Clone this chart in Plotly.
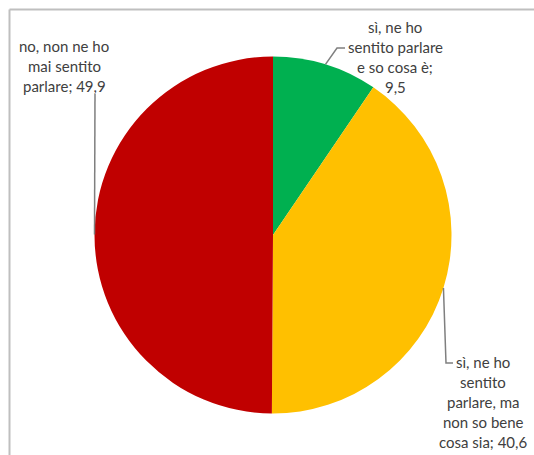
import math
import plotly.graph_objects as go

# Survey answers and their shares (%)
labels = [
    "sì, ne ho sentito parlare e so cosa è",
    "sì, ne ho sentito parlare, ma non so bene cosa sia",
    "no, non ne ho mai sentito parlare",
]
values = [9.5, 40.6, 49.9]
label_lines = [
    ["sì, ne ho", "sentito parlare", "e so cosa è;", "9,5"],
    ["sì, ne ho", "sentito", "parlare, ma", "non so bene", "cosa sia; 40,6"],
    ["no, non ne ho", "mai sentito", "parlare; 49,9"],
]
colors = ["#00B050", "#FFC000", "#C00000"]

W, H = 534, 455
CX, CY, R = 273, 235, 178.5  # pie centre and radius in pixels
LINE_STEP = 20               # text line spacing in pixels


def px(x, y):
    """Pixel position -> paper coordinates."""
    return x / W, 1 - y / H


fig = go.Figure(
    go.Pie(
        labels=labels,
        values=values,
        sort=False,
        direction="clockwise",
        rotation=0,
        marker=dict(colors=colors, line=dict(width=0)),
        textinfo="none",
        hoverinfo="label+value",
        showlegend=False,
        domain=dict(
            x=[(CX - R) / W, (CX + R) / W],
            y=[1 - (CY + R) / H, 1 - (CY - R) / H],
        ),
    )
)

# label block: centre x and first-line y (pixels); leader elbow/end points
label_pos = [(395, 27), (483, 362), (64, 46)]
leader_ends = [
    [(337, 48), (345, 48)],
    [(446, 363), (453, 363)],
    [(95, 94)],
]

total = sum(values)
cum = 0.0
shapes = []
annotations = []
for i, v in enumerate(values):
    mid = (cum + v / 2) / total * 2 * math.pi
    cum += v
    ex = CX + R * math.sin(mid)
    ey = CY - R * math.cos(mid)
    pts = [(ex, ey)] + leader_ends[i]
    path = "M " + " L ".join(
        f"{px(x, y)[0]:.5f},{px(x, y)[1]:.5f}" for x, y in pts
    )
    shapes.append(
        dict(type="path", xref="paper", yref="paper", path=path,
             line=dict(color="#7F7F7F", width=1.5))
    )
    cx, y0 = label_pos[i]
    for k, line in enumerate(label_lines[i]):
        lx, ly = px(cx, y0 + k * LINE_STEP)
        annotations.append(
            dict(
                x=lx, y=ly, xref="paper", yref="paper",
                text=line, showarrow=False,
                xanchor="center", yanchor="middle",
                font=dict(family="Lato, Open Sans, sans-serif", size=15,
                          color="#404040"),
            )
        )

# chart frame (top and left edges)
fx, fy = px(9.5, 9.5)
shapes.append(dict(type="line", xref="paper", yref="paper",
                   x0=fx, y0=fy, x1=1.02, y1=fy,
                   line=dict(color="#BFBFBF", width=2)))
shapes.append(dict(type="line", xref="paper", yref="paper",
                   x0=fx, y0=fy, x1=fx, y1=-0.02,
                   line=dict(color="#BFBFBF", width=2)))

fig.update_layout(
    width=W, height=H,
    margin=dict(l=0, r=0, t=0, b=0),
    paper_bgcolor="white",
    plot_bgcolor="white",
    shapes=shapes,
    annotations=annotations,
)

fig.write_html("out.html")
